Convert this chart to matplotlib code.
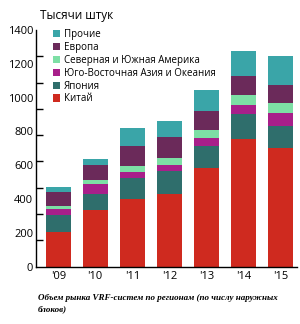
import numpy as np
from matplotlib import pyplot as plt

years = ["'09", "'10", "'11", "'12", "'13", "'14", "'15"]
regions = ["Китай", "Япония", "Юго-Восточная Азия и Океания",
           "Северная и Южная Америка", "Европа", "Прочие"]
china = [206, 333, 403, 431, 586, 758, 699]
japan = [102, 98, 119, 137, 125, 143, 134]
sea = [34, 57, 38, 35, 49, 53, 74]
america = [19, 26, 35, 38, 48, 62, 61]
europe = [82, 87, 116, 123, 113, 109, 109]
other = [27, 38, 107, 99, 121, 151, 167]
colors = ["#cf2a1f", "#2f6e6c", "#a81f8a", "#7ddfa5", "#6b2a5a", "#3aa5a8"]

plt.rcParams['font.family'] = ['Open Sans', 'DejaVu Sans']

fig = plt.figure(figsize=(3.0, 3.24), dpi=100)
ax = fig.add_axes([0.12, 0.177, 0.87, 0.7305])

x = np.arange(len(years))
bottom = np.zeros(len(years))
handles = []
for vals, c, name in zip([china, japan, sea, america, europe, other], colors, regions):
    b = ax.bar(x, vals, 0.68, bottom=bottom, color=c, label=name)
    handles.append(b)
    bottom += np.array(vals)

ax.set_xlim(-0.6, 6.45)
ax.set_ylim(0, 1400)
ax.set_xticks(x)
ax.set_xticklabels(years, fontsize=8)
ax.set_yticks(np.arange(0, 1401, 200))
ax.tick_params(axis='y', length=0, labelsize=8, pad=2)
ax.tick_params(axis='x', length=0, pad=3)
ax.set_yticks(np.linspace(0, 1400, 10), minor=True)
ax.tick_params(axis='y', which='minor', direction='in', length=5, width=1)
for s in ['top', 'right']:
    ax.spines[s].set_visible(False)
ax.spines['left'].set_linewidth(1)
ax.spines['bottom'].set_linewidth(1)

leg = ax.legend(handles[::-1], regions[::-1], loc='upper left',
                bbox_to_anchor=(0.05, 1.02), frameon=False, fontsize=7,
                handlelength=0.75, handleheight=0.75, handletextpad=0.4,
                labelspacing=0.19, borderaxespad=0)

fig.text(0.135, 0.953, "Тысячи штук", fontsize=8.5, va='center', ha='left')
fig.text(0.125, 0.063,
         "Объем рынка VRF-систем по регионам (по числу наружных\nблоков)",
         fontsize=6.5, family='Liberation Serif', style='italic',
         weight='bold', va='center', ha='left', linespacing=1.45)

plt.savefig("out.png", dpi=100)
